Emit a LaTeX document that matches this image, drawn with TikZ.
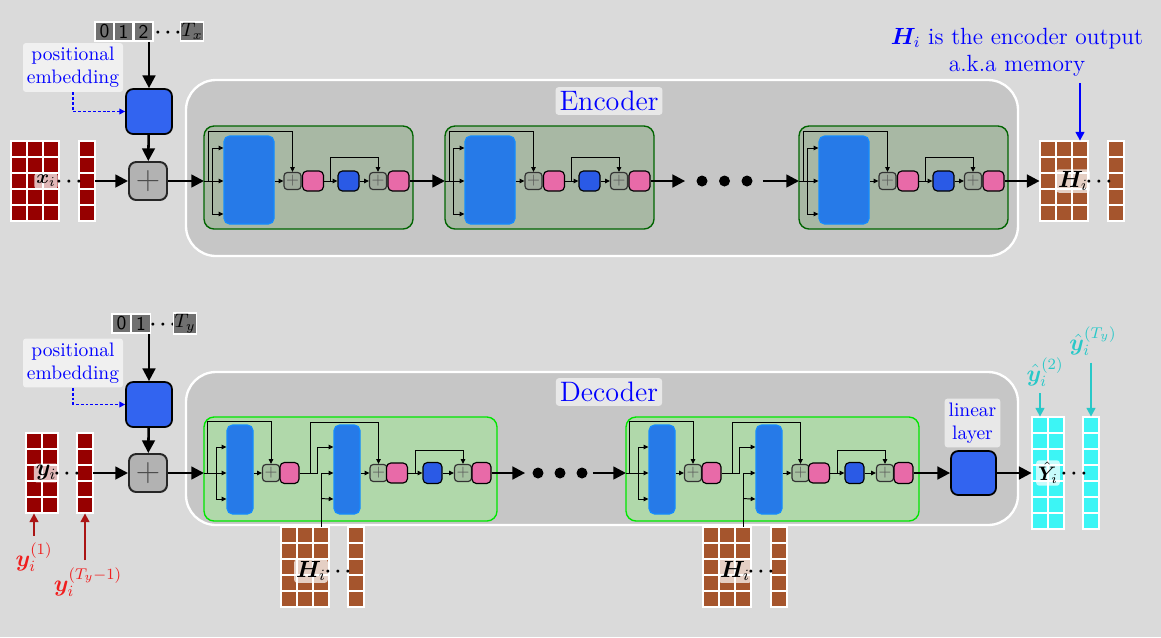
\documentclass[tikz,border=0pt]{standalone}
\usepackage{bm}
\usetikzlibrary{arrows.meta,calc}

\definecolor{bgcol}{RGB}{218,218,218}
\definecolor{boxgray}{RGB}{198,198,198}
\definecolor{encfill}{RGB}{168,184,164}
\definecolor{encline}{RGB}{0,100,0}
\definecolor{decfill}{RGB}{176,216,170}
\definecolor{decline}{RGB}{0,230,0}
\definecolor{attblue}{RGB}{38,122,232}
\definecolor{attline}{RGB}{20,140,255}
\definecolor{ffblue}{RGB}{42,90,230}
\definecolor{embblue}{RGB}{50,100,240}
\definecolor{normpink}{RGB}{232,106,168}
\definecolor{xred}{RGB}{150,0,0}
\definecolor{hbrown}{RGB}{165,85,45}
\definecolor{ycyan}{RGB}{60,245,245}
\definecolor{tokgray}{RGB}{112,112,112}
\definecolor{lblred}{RGB}{240,30,30}
\definecolor{arrred}{RGB}{170,20,20}
\definecolor{lblcyan}{RGB}{40,200,200}

\newcommand{\pxu}{0.018cm}
% grid of cells: x0, y0, columns, rows, colour, name
\newcommand{\cellgrid}[6]{%
  \foreach \ci in {1,...,#3}{%
    \foreach \ri in {1,...,#4}{%
      \draw[cell, fill=#5] ({#1+16*(\ci-1)},{#2+16*(\ri-1)}) rectangle ++(16,16);
    }}
  \node[matbox, minimum width=16*#3*\pxu, minimum height=16*#4*\pxu] (#6) at ({#1+8*#3},{#2+8*#4}) {};
}

\begin{document}
\begin{tikzpicture}[x=0.018cm, y=-0.018cm,
    container/.style={draw=white, line width=1.2pt, fill=boxgray, rounded corners=0.54cm},
    encblk/.style={draw=encline, line width=0.7pt, fill=encfill, rounded corners=1.8mm,
      minimum width=209*\pxu, minimum height=103*\pxu},
    decblk/.style={draw=decline, line width=0.7pt, fill=decfill, rounded corners=1.8mm,
      minimum width=293*\pxu, minimum height=104*\pxu},
    attn/.style={fill=attblue, draw=attline, line width=0.6pt, rounded corners=1mm},
    ffn/.style={fill=ffblue, draw=black, line width=0.6pt, rounded corners=0.8mm,
      minimum width=21*\pxu, minimum height=20*\pxu},
    norm/.style={fill=normpink, draw=black, line width=0.6pt, rounded corners=0.8mm,
      minimum width=21*\pxu, minimum height=20*\pxu},
    addbox/.style={draw=black!80, line width=0.6pt, fill=black!45, fill opacity=0.3,
      text opacity=1, text=black!65, rounded corners=0.6mm, minimum size=17*\pxu,
      inner sep=0pt, font=\footnotesize},
    mainplus/.style={fill=black!30, draw=black!85, line width=1pt, rounded corners=1.3mm,
      minimum size=38*\pxu, inner sep=0pt, font=\LARGE, text=black!70},
    emb/.style={fill=embblue, draw=black, line width=0.9pt, rounded corners=1.3mm,
      minimum width=46*\pxu, minimum height=45*\pxu},
    tok/.style={fill=tokgray, draw=white, line width=0.8pt, minimum width=19*\pxu,
      minimum height=19*\pxu, inner sep=0.5pt, font=\sffamily},
    tag/.style={fill=white, fill opacity=0.6, text opacity=1, text=blue,
      rounded corners=0.5mm, align=center, inner sep=2pt},
    mlabel/.style={fill=white, fill opacity=0.72, text opacity=1, inner sep=1pt,
      rounded corners=0.5mm, font=\large},
    mdots/.style={inner sep=0pt},
    matbox/.style={inner sep=0pt},
    cell/.style={draw=white, line width=1pt},
    bigdot/.style={circle, fill=black, inner sep=0pt, minimum size=11*\pxu},
    bigarrow/.style={line width=1.3pt, -{Triangle[length=6.5pt,width=6.5pt]}},
    thinarrow/.style={line width=0.5pt, -{Triangle[length=2.4pt,width=2.2pt]}},
    dotarrow/.style={blue, line width=0.6pt, dash pattern=on 1.5pt off 1pt,
      -{Triangle[length=3pt,width=3pt]}},
    bluearrow/.style={blue, line width=1pt, -{Triangle[length=4.5pt,width=4.5pt]}},
    redarrow/.style={arrred, line width=1pt, -{Triangle[length=4.5pt,width=4.5pt]}},
    cyanarrow/.style={lblcyan, line width=1pt, -{Triangle[length=4.5pt,width=4.5pt]}}
  ]
  % Background
  \fill[bgcol] (0,0) rectangle (1161,637);
  \useasboundingbox (0,0) rectangle (1161,637);

  % Containers
  \node[container, minimum width=832*\pxu, minimum height=176*\pxu] (encbox) at (602,168) {};
  \node[container, minimum width=832*\pxu, minimum height=153*\pxu] (decbox) at (602,448.5) {};
  \node[tag, font=\Large] (enclbl) at (609,101) {Encoder};
  \node[tag, font=\Large] (declbl) at (609,392) {Decoder};

  % Matrices
  \cellgrid{11}{141}{3}{5}{xred}{xmat}
  \cellgrid{79}{141}{1}{5}{xred}{xsep}
  \cellgrid{1040}{141}{3}{5}{hbrown}{hmat}
  \cellgrid{1108}{141}{1}{5}{hbrown}{hsep}
  \cellgrid{26}{433}{2}{5}{xred}{ymat}
  \cellgrid{77}{433}{1}{5}{xred}{ysep}
  \cellgrid{1032}{417}{2}{7}{ycyan}{yhmat}
  \cellgrid{1083}{417}{1}{7}{ycyan}{yhsep}
  \cellgrid{281}{527}{3}{5}{hbrown}{hd1}
  \cellgrid{348}{527}{1}{5}{hbrown}{hd1sep}
  \cellgrid{703}{527}{3}{5}{hbrown}{hd2}
  \cellgrid{771}{527}{1}{5}{hbrown}{hd2sep}

  \node[mlabel, font=\normalsize] (xlbl) at (46,181) {$\bm{x}_i$};
  \node[mdots] (xdots) at (69,182) {$\bm{\cdots}$};
  \node[mlabel] (hlbl) at (1073,181) {$\bm{H}_i$};
  \node[mdots] (hdots) at (1099,182) {$\bm{\cdots}$};
  \node[mlabel] (ylbl) at (46,473) {$\bm{y}_i$};
  \node[mdots] (ydots) at (67,474) {$\bm{\cdots}$};
  \node[mlabel, font=\normalsize] (yhlbl) at (1048,473) {$\hat{\bm{Y}}_i$};
  \node[mdots] (yhdots) at (1074,474) {$\bm{\cdots}$};
  \node[mlabel] (hd1lbl) at (311,571) {$\bm{H}_i$};
  \node[mdots] (hd1dots) at (338,572) {$\bm{\cdots}$};
  \node[mlabel] (hd2lbl) at (735,571) {$\bm{H}_i$};
  \node[mdots] (hd2dots) at (761,572) {$\bm{\cdots}$};

  % Encoder blocks
  \foreach \bi/\xo in {1/0,2/241,3/595}{
    \node[encblk] (e\bi blk) at (308.5+\xo,177.5) {};
    \node[attn, minimum width=50*\pxu, minimum height=88*\pxu] (e\bi mha) at (249+\xo,180) {};
    \node[addbox] (e\bi add1) at (292.5+\xo,181) {$+$};
    \node[norm] (e\bi n1) at (313+\xo,181) {};
    \node[ffn] (e\bi ff) at (348.5+\xo,181) {};
    \node[addbox] (e\bi add2) at (378+\xo,181) {$+$};
    \node[norm] (e\bi n2) at (398.5+\xo,181) {};
    \coordinate (e\bi in) at (204+\xo,181);
    \coordinate (e\bi sp) at (212+\xo,181);
    \draw[thinarrow] (e\bi in) -- (e\bi mha.west |- e\bi in);
    \draw[thinarrow] (e\bi sp) |- ($(e\bi mha.west)+(0,-32)$);
    \draw[thinarrow] (e\bi sp) |- ($(e\bi mha.west)+(0,34)$);
    \draw[thinarrow] (e\bi in) -- ++(4,0) |- ($(e\bi add1.north)+(0,-40)$) -- (e\bi add1.north);
    \draw[thinarrow] (e\bi mha.east |- e\bi add1) -- (e\bi add1.west);
    \draw[thinarrow] (e\bi n1.east) -- (e\bi ff.west);
    \draw[thinarrow] ($(e\bi n1.east)+(6,0)$) |- ($(e\bi add2.north)+(0,-14)$) -- (e\bi add2.north);
    \draw[thinarrow] (e\bi ff.east) -- (e\bi add2.west);
  }

  % Decoder blocks
  \foreach \bi/\xo in {1/0,2/422}{
    \node[decblk] (d\bi blk) at (350.5+\xo,469) {};
    \node[attn, minimum width=26*\pxu, minimum height=89*\pxu] (d\bi sa) at (240+\xo,469.5) {};
    \node[addbox] (d\bi add1) at (271+\xo,473) {$+$};
    \node[norm, minimum width=19*\pxu, minimum height=21*\pxu] (d\bi n1) at (289.5+\xo,473) {};
    \node[attn, minimum width=26*\pxu, minimum height=89*\pxu] (d\bi ca) at (347+\xo,469.5) {};
    \node[addbox] (d\bi add2) at (378.5+\xo,473) {$+$};
    \node[norm] (d\bi n2) at (397+\xo,473) {};
    \node[ffn, minimum width=19*\pxu, minimum height=21*\pxu] (d\bi ff) at (432.5+\xo,473) {};
    \node[addbox] (d\bi add3) at (463+\xo,473) {$+$};
    \node[norm, minimum width=19*\pxu, minimum height=21*\pxu] (d\bi n3) at (481.5+\xo,473) {};
    \coordinate (d\bi in) at (204+\xo,473);
    \coordinate (d\bi sp) at (216+\xo,473);
    \draw[thinarrow] (d\bi in) -- (d\bi sa.west |- d\bi in);
    \draw[thinarrow] (d\bi sp) |- ($(d\bi sa.west)+(0,-22.5)$);
    \draw[thinarrow] (d\bi sp) |- ($(d\bi sa.west)+(0,29.5)$);
    \draw[thinarrow] (d\bi in) -- ++(3,0) |- ($(d\bi add1.north)+(0,-42)$) -- (d\bi add1.north);
    \draw[thinarrow] (d\bi sa.east |- d\bi add1) -- (d\bi add1.west);
    \draw[thinarrow] (d\bi n1.east) -- ++(18,0) |- ($(d\bi ca.west)+(0,-22.5)$);
    \draw[thinarrow] ($(d\bi n1.east)+(11,0)$) |- ($(d\bi add2.north)+(0,-41.5)$) -- (d\bi add2.north);
    \draw[thinarrow] ($(hd\bi.north)+(16,0)$) |- ($(d\bi ca.west)+(0,3.5)$);
    \draw[thinarrow] ($(hd\bi.north)+(16,-28)$) -- ($(d\bi ca.west)+(0,29.5)$);
    \draw[thinarrow] (d\bi ca.east |- d\bi add2) -- (d\bi add2.west);
    \draw[thinarrow] (d\bi n2.east) -- (d\bi ff.west);
    \draw[thinarrow] ($(d\bi n2.east)+(7,0)$) |- ($(d\bi add3.north)+(0,-13)$) -- (d\bi add3.north);
    \draw[thinarrow] (d\bi ff.east) -- (d\bi add3.west);
  }

  % Encoder input side
  \node[tok] (xtok0) at (104.5,31.5) {0};
  \node[tok] (xtok1) at (123.5,31.5) {1};
  \node[tok] (xtok2) at (143.5,31.5) {2};
  \node[mdots] (xtokdots) at (168,32.5) {$\bm{\cdots}$};
  \node[tok] (xtokT) at (192,31.5) {$T_x$};
  \node[emb] (xemb) at (149,111.5) {};
  \node[mainplus] (xplus) at (148,181) {$+$};
  \node[tag] (xpos) at (73,67.5) {positional\\embedding};
  \draw[bigarrow] (xemb.north |- xtok2.south) -- (xemb.north);
  \draw[bigarrow] (xemb) -- (xplus);
  \draw[dotarrow] (xpos.south) |- (xemb.west);
  \draw[bigarrow] (xsep.east) -- (xplus.west);
  \draw[bigarrow] (xplus.east) -- (e1in);

  % Encoder chain
  \node[bigdot] (ed1) at (702,181) {};
  \node[bigdot] (ed2) at (724.5,181) {};
  \node[bigdot] (ed3) at (747,181) {};
  \draw[bigarrow] (e1n2.east) -- (e2in);
  \draw[bigarrow] (e2n2.east) -- ($(ed1.west)+(-11,0)$);
  \draw[bigarrow] ($(ed3.east)+(10,0)$) -- (e3in);
  \draw[bigarrow] (e3n2.east) -- (hmat.west);

  % Memory note
  \node[text=blue, font=\large, align=center] (memlbl) at (1017,52) {$\bm{H}_i$ is the encoder output\\a.k.a memory};
  \coordinate (hmtip) at ($(hmat.north)+(16,0)$);
  \draw[bluearrow] (memlbl.south -| hmtip) -- (hmtip);

  % Decoder input side
  \node[tok] (ytok0) at (121.5,323.5) {0};
  \node[tok] (ytok1) at (141,323.5) {1};
  \node[mdots] (ytokdots) at (163,324.5) {$\bm{\cdots}$};
  \node[tok] (ytokT) at (185,323.5) {$T_y$};
  \node[emb] (yemb) at (149,404.5) {};
  \node[mainplus] (yplus) at (148,473) {$+$};
  \node[tag] (ypos) at (73,363) {positional\\embedding};
  \draw[bigarrow] (yemb.north |- ytok1.south) -- (yemb.north);
  \draw[bigarrow] (yemb) -- (yplus);
  \draw[dotarrow] (ypos.south) |- (yemb.west);
  \draw[bigarrow] (ysep.east) -- (yplus.west);
  \draw[bigarrow] (yplus.east) -- (d1in);

  % Decoder chain
  \node[bigdot] (dd1) at (538,473) {};
  \node[bigdot] (dd2) at (560,473) {};
  \node[bigdot] (dd3) at (582,473) {};
  \draw[bigarrow] (d1n3.east) -- ($(dd1.west)+(-7,0)$);
  \draw[bigarrow] ($(dd3.east)+(5,0)$) -- (d2in);
  \node[emb, minimum width=45*\pxu, minimum height=44*\pxu] (linear) at (973.5,473) {};
  \node[tag] (linlbl) at (972.5,423) {linear\\layer};
  \draw[bigarrow] (d2n3.east) -- (linear.west);
  \draw[bigarrow] (linear.east) -- (yhmat.west);

  % Targets and outputs
  \node[text=lblred, font=\large] (y1lbl) at (34,557) {$\bm{y}_i^{(1)}$};
  \node[text=lblred, font=\large] (yTlbl) at (88,582) {$\bm{y}_i^{(T_y-1)}$};
  \coordinate (y1tip) at ($(ymat.south)+(-8,0)$);
  \draw[redarrow] (y1lbl.north -| y1tip) -- (y1tip);
  \draw[redarrow] (yTlbl.north -| ysep.south) -- (ysep.south);
  \node[text=lblcyan, font=\large] (yh2lbl) at (1045,372) {$\hat{\bm{y}}_i^{(2)}$};
  \node[text=lblcyan, font=\large] (yhTlbl) at (1093,341) {$\hat{\bm{y}}_i^{(T_y)}$};
  \coordinate (yh2tip) at ($(yhmat.north)+(-8,0)$);
  \draw[cyanarrow] (yh2lbl.south -| yh2tip) -- (yh2tip);
  \draw[cyanarrow] (yhTlbl.south -| yhsep.north) -- (yhsep.north);
\end{tikzpicture}
\end{document}
